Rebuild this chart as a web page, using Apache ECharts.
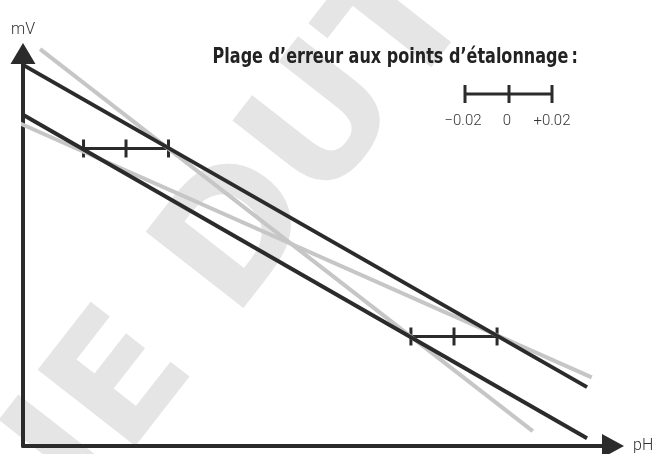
<!DOCTYPE html>
<html>
<head>
<meta charset="utf-8">
<script src="https://cdn.jsdelivr.net/npm/echarts@6/dist/echarts.min.js"></script>
<style>
  html, body { margin: 0; padding: 0; background: #fff; }
  #chart { width: 657px; height: 454px; }
</style>
</head>
<body>
<div id="chart"></div>
<script>
// calibration lines (arbitrary units, 0-100 on both axes)
const idealA = [[0, 97.1], [95.6, 15.0]];
const idealB = [[0, 84.4], [95.6, 2.0]];
const errorA = [[2.9, 101.1], [86.4, 3.8]];
const errorB = [[-0.85, 82.4], [96.4, 17.5]];

// error bars at the calibration points: [centre x, centre y, half width]
const errorBars = [[17.46, 75.8, 7.2], [73.05, 27.9, 7.3]];

const legendLabels = ['\u22120.02', '0', '+0.02'];
const titleText = 'Plage d\u2019erreur aux points d\u2019\u00e9talonnage\u2009:';

const dark = '#2b2b2b';
const light = '#c6c6c6';

const chart = echarts.init(document.getElementById('chart'));

function lineSeries(data, color) {
    return {
        type: 'line',
        data: data,
        symbol: 'none',
        clip: false,
        silent: true,
        lineStyle: { color: color, width: 4, cap: 'butt' },
        z: color === dark ? 4 : 3
    };
}

const legendX = [465, 509, 552];
const legendY = 94;

function tick(x, y) {
    return { type: 'line', shape: { x1: x, y1: y - 9, x2: x, y2: y + 9 }, style: { stroke: dark, lineWidth: 3 } };
}

let option = {
    animation: false,
    backgroundColor: '#fff',
    grid: { left: 23, right: 44, top: 53.5, bottom: 6 },
    xAxis: {
        type: 'value',
        min: 0,
        max: 100,
        name: 'pH',
        nameLocation: 'end',
        nameGap: 20,
        nameTextStyle: { fontFamily: 'Roboto', fontWeight: 300, fontSize: 16, color: '#333', padding: [0, 0, 2, 0] },
        axisLine: { lineStyle: { color: dark, width: 4 }, symbol: ['none', 'triangle'], symbolSize: [24, 22] },
        axisTick: { show: false },
        axisLabel: { show: false },
        splitLine: { show: false }
    },
    yAxis: {
        type: 'value',
        min: 0,
        max: 100,
        name: 'mV',
        nameLocation: 'end',
        nameGap: 16,
        nameTextStyle: { fontFamily: 'Roboto', fontWeight: 300, fontSize: 16, color: '#333' },
        axisLine: { lineStyle: { color: dark, width: 4 }, symbol: ['none', 'triangle'], symbolSize: [25, 21] },
        axisTick: { show: false },
        axisLabel: { show: false },
        splitLine: { show: false }
    },
    graphic: [
        {
            // faint watermark behind the chart
            type: 'text',
            x: 52,
            y: 481,
            rotation: 52 * Math.PI / 180,
            silent: true,
            z: -10,
            style: {
                text: 'IE DUTS',
                fontFamily: 'DejaVu Sans',
                fontWeight: 'bold',
                fontSize: 170,
                fill: '#e5e5e5',
                align: 'left',
                verticalAlign: 'middle'
            }
        },
        {
            type: 'text',
            x: 578,
            y: 57,
            scaleX: 0.81,
            style: {
                text: titleText,
                fontFamily: 'DejaVu Sans Condensed',
                fontWeight: 'bold',
                fontSize: 22,
                fill: '#222',
                align: 'right',
                verticalAlign: 'middle'
            }
        },
        {
            type: 'group',
            children: [
                { type: 'line', shape: { x1: legendX[0], y1: legendY, x2: legendX[2], y2: legendY }, style: { stroke: dark, lineWidth: 3 } },
                tick(legendX[0], legendY),
                tick(legendX[1], legendY),
                tick(legendX[2], legendY)
            ].concat(legendLabels.map(function (t, i) {
                return {
                    type: 'text',
                    x: [463, 507, 552][i],
                    y: 121,
                    style: {
                        text: t,
                        fontFamily: 'Roboto',
                        fontWeight: 300,
                        fontSize: 15,
                        fill: '#333',
                        align: 'center',
                        verticalAlign: 'middle'
                    }
                };
            }))
        }
    ],
    series: [
        {
            type: 'custom',
            data: errorBars,
            clip: false,
            silent: true,
            z: 2,
            renderItem: function (params, api) {
                const x = api.value(0), y = api.value(1), h = api.value(2);
                const l = api.coord([x - h, y]);
                const c = api.coord([x, y]);
                const r = api.coord([x + h, y]);
                return {
                    type: 'group',
                    children: [
                        { type: 'line', shape: { x1: l[0], y1: l[1], x2: r[0], y2: r[1] }, style: { stroke: dark, lineWidth: 3 } },
                        tick(l[0], l[1]),
                        tick(c[0], c[1]),
                        tick(r[0], r[1])
                    ]
                };
            }
        },
        lineSeries(errorA, light),
        lineSeries(errorB, light),
        lineSeries(idealA, dark),
        lineSeries(idealB, dark)
    ]
};

chart.setOption(option);
</script>
</body>
</html>
